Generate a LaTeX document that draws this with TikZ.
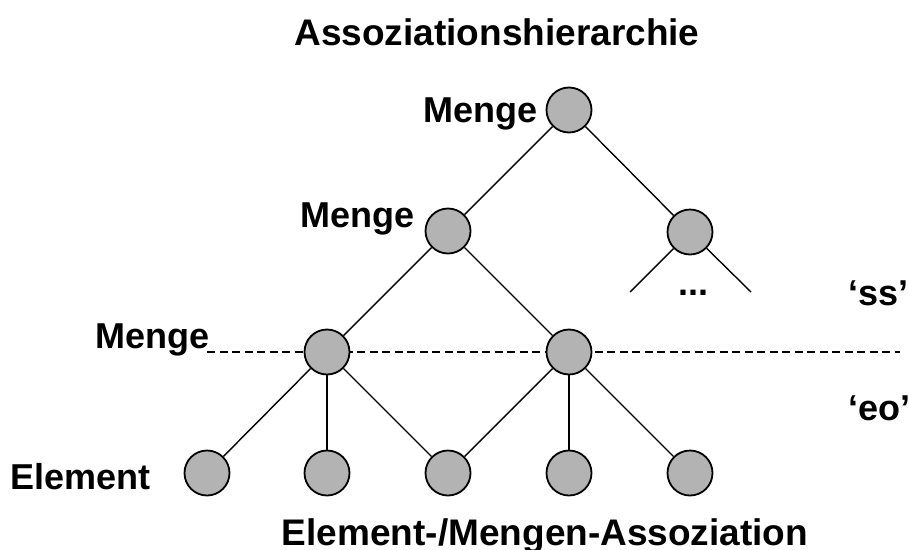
\documentclass[tikz,border=0pt]{standalone}
\usepackage{fontspec}
\setmainfont{Liberation Sans}
\definecolor{nodegray}{RGB}{179,179,179}
\begin{document}
\begin{tikzpicture}[x=1pt,y=-1pt,
  knot/.style={circle,draw=black,line width=1.8pt,fill=nodegray,minimum size=45pt,inner sep=0pt},
  edge/.style={draw=black,line width=1.4pt},
  lbl/.style={inner sep=0pt,font=\fontsize{36}{40}\selectfont\bfseries},
  biglbl/.style={inner sep=0pt,font=\fontsize{37}{41}\selectfont\bfseries},
  sep/.style={draw=black,line width=1.2pt,dash pattern=on 8pt off 4.5pt}]
\useasboundingbox (0,0) rectangle (909,549);
\draw[sep] (207,352) coordinate (ds) -- (900,352) coordinate (de);
% nodes
\node[knot] (r) at (569,110) {};
\node[knot] (a) at (448,231) {};
\node[knot] (b) at (690,232) {};
\node[knot] (c) at (327,352) {};
\node[knot] (d) at (569,352) {};
\node[knot] (e1) at (207,473) {};
\node[knot] (e2) at (327,473) {};
\node[knot] (e3) at (448,473) {};
\node[knot] (e4) at (569,473) {};
\node[knot] (e5) at (690,473) {};
\coordinate (bl) at (630,292);
\coordinate (br) at (751,292);
% edges
\draw[edge] (r) -- (a);
\draw[edge] (r) -- (b);
\draw[edge] (a) -- (c);
\draw[edge] (a) -- (d);
\draw[edge] (b) -- (bl);
\draw[edge] (b) -- (br);
\draw[edge] (c) -- (e1);
\draw[edge] (c) -- (e2);
\draw[edge] (c) -- (e3);
\draw[edge] (d) -- (e3);
\draw[edge] (d) -- (e4);
\draw[edge] (d) -- (e5);
% labels
\node[biglbl,anchor=base] (title) at (497,45) {Assoziationshierarchie};
\node[biglbl,anchor=base] (bottom) at (545,545) {Element-/Mengen-Assoziation};
\node[lbl,anchor=base east] (m1) at (538,122) {Menge};
\node[lbl,anchor=base east] (m2) at (415,227) {Menge};
\node[lbl,anchor=base east] (m3) at (210,348) {Menge};
\node[lbl,anchor=base west] (el) at (10,489) {Element};
\node[lbl,anchor=base] (dots) at (693,295) {...};
\node[lbl,anchor=base west] (ss) at (848,305) {‘ss’};
\node[lbl,anchor=base west] (eo) at (848,420) {‘eo’};
\end{tikzpicture}
\end{document}
